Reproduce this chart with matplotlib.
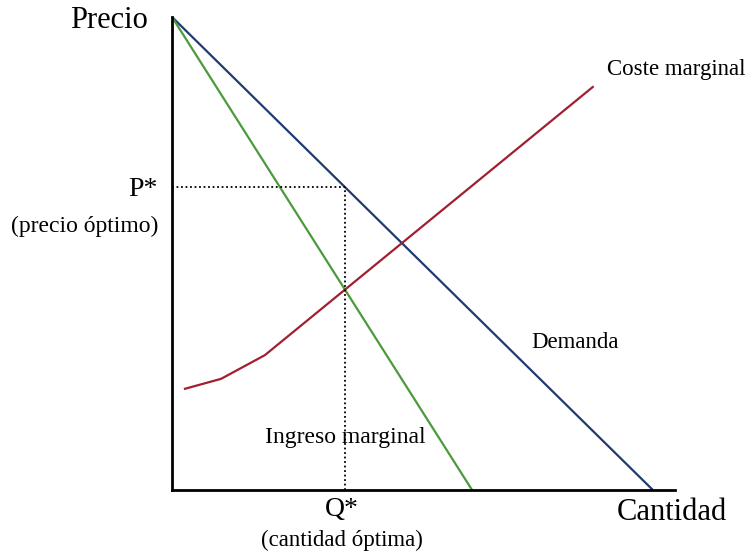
import matplotlib.pyplot as plt

# curve data (units: 0-100 on both axes)
demanda_q = [0, 100]
demanda_p = [100, 0]
ingreso_q = [0, 62.4]
ingreso_p = [100, 0]
coste_q = [2.7, 10.2, 19.3, 87.5]
coste_p = [21.4, 23.5, 28.5, 85.2]
q_opt = 36.0
p_opt = 64.0

plt.rcParams['font.family'] = ['Liberation Serif', 'DejaVu Serif']

fig = plt.figure(figsize=(7.52, 5.53), dpi=100)
ax = fig.add_axes([172 / 752, 63 / 553, 503 / 752, 473 / 553])
ax.set_xlim(0, 104.6)
ax.set_ylim(0, 100)

ax.plot(demanda_q, demanda_p, color='#1f3b70', lw=1.6, solid_capstyle='round')
ax.plot(ingreso_q, ingreso_p, color='#4c9a3c', lw=1.6)
ax.plot(coste_q, coste_p, color='#a02030', lw=1.6)

# optimum dotted guides
ax.plot([0, q_opt], [p_opt, p_opt], color='black', lw=1.3, ls=(0, (1, 1.5)))
ax.plot([q_opt, q_opt], [0, p_opt], color='black', lw=1.3, ls=(0, (1, 1.5)))

for s in ['top', 'right']:
    ax.spines[s].set_visible(False)
for s in ['left', 'bottom']:
    ax.spines[s].set_linewidth(2)
    ax.spines[s].set_color('black')
ax.set_xticks([])
ax.set_yticks([])

# labels
fig.text(148 / 752, 1 - 20 / 553, 'Precio', fontsize=22, ha='right', va='center')
fig.text(727 / 752, 1 - 513 / 553, 'Cantidad', fontsize=22, ha='right', va='center')
fig.text(158 / 752, 1 - 190 / 553, 'P*', fontsize=20, ha='right', va='center')
fig.text(158 / 752, 1 - 226 / 553, '(precio óptimo)', fontsize=17, ha='right', va='center')
fig.text(342 / 752, 1 - 510 / 553, 'Q*', fontsize=20, ha='center', va='center')
fig.text(342 / 752, 1 - 540 / 553, '(cantidad óptima)', fontsize=16.5, ha='center', va='center')
fig.text(265 / 752, 1 - 437 / 553, 'Ingreso marginal', fontsize=17, ha='left', va='center')
fig.text(531 / 752, 1 - 342 / 553, 'Demanda', fontsize=16.5, ha='left', va='center')
fig.text(607 / 752, 1 - 70 / 553, 'Coste marginal', fontsize=16.5, ha='left', va='center')

fig.savefig('out.png', dpi=100)
